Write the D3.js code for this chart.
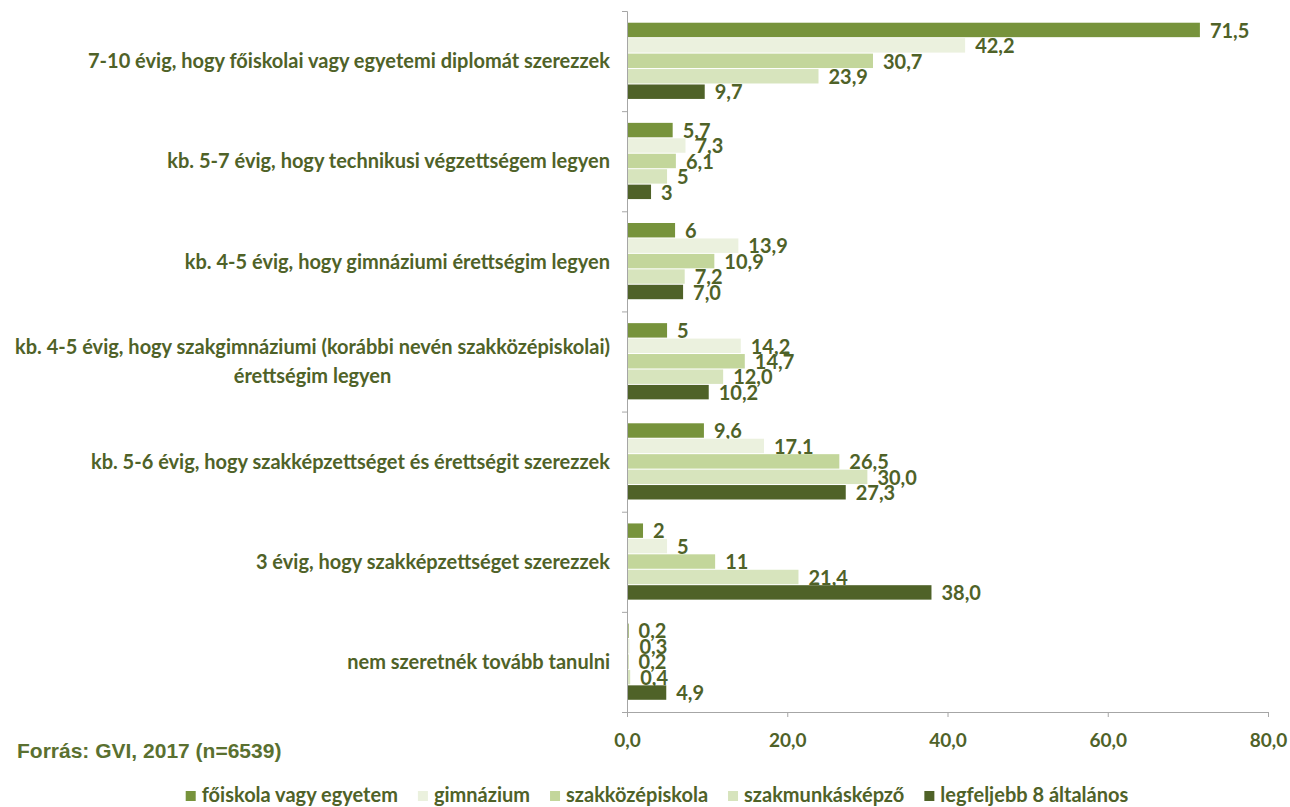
<!DOCTYPE html>
<html>
<head>
<meta charset="utf-8">
<script src="https://cdn.jsdelivr.net/npm/d3@7"></script>
<style>
  body { margin: 0; background: #fff; }
  svg text { font-family: Lato, "Open Sans", sans-serif; font-weight: bold; fill: #4f6228; }
  .axis path, .axis line { stroke: #a6a6a6; }
</style>
</head>
<body>
<svg id="chart" width="1290" height="807"></svg>
<script>
// categories, top to bottom
const categories = [
  ["7-10 évig, hogy főiskolai vagy egyetemi diplomát szerezzek"],
  ["kb. 5-7 évig, hogy technikusi végzettségem legyen"],
  ["kb. 4-5 évig, hogy gimnáziumi érettségim legyen"],
  ["kb. 4-5 évig, hogy szakgimnáziumi (korábbi nevén szakközépiskolai)", "érettségim legyen"],
  ["kb. 5-6 évig, hogy szakképzettséget és érettségit szerezzek"],
  ["3 évig, hogy szakképzettséget szerezzek"],
  ["nem szeretnék tovább tanulni"]
];

const seriesNames = ["főiskola vagy egyetem", "gimnázium", "szakközépiskola", "szakmunkásképző", "legfeljebb 8 általános"];
const seriesColors = ["#77933c", "#ebf1de", "#c3d69b", "#d7e4bd", "#4f6228"];

const foiskola   = [71.5, 5.7, 6.0, 5.0, 9.6, 2.0, 0.2];
const gimnazium  = [42.2, 7.3, 13.9, 14.2, 17.1, 5.0, 0.3];
const szakkozep  = [30.7, 6.1, 10.9, 14.7, 26.5, 11.0, 0.2];
const szakmunkas = [23.9, 5.0, 7.2, 12.0, 30.0, 21.4, 0.4];
const legfeljebb = [9.7, 3.0, 7.0, 10.2, 27.3, 38.0, 4.9];

// value labels as printed on the chart
const foiskolaLabels   = ["71,5", "5,7", "6", "5", "9,6", "2", "0,2"];
const gimnaziumLabels  = ["42,2", "7,3", "13,9", "14,2", "17,1", "5", "0,3"];
const szakkozepLabels  = ["30,7", "6,1", "10,9", "14,7", "26,5", "11", "0,2"];
const szakmunkasLabels = ["23,9", "5", "7,2", "12,0", "30,0", "21,4", "0,4"];
const legfeljebbLabels = ["9,7", "3", "7,0", "10,2", "27,3", "38,0", "4,9"];

const xTicks = [0, 20, 40, 60, 80];
const source = "Forrás: GVI, 2017 (n=6539)";

const seriesValues = [foiskola, gimnazium, szakkozep, szakmunkas, legfeljebb];
const seriesLabels = [foiskolaLabels, gimnaziumLabels, szakkozepLabels, szakmunkasLabels, legfeljebbLabels];

const svg = d3.select("#chart");
const margin = { top: 11, left: 627, right: 22, bottom: 95 };
const width = 1290 - margin.left - margin.right;
const height = 807 - margin.top - margin.bottom;

const g = svg.append("g").attr("transform", `translate(${margin.left}, ${margin.top})`);

const x = d3.scaleLinear().domain([0, 80]).range([0, width]);
const y = d3.scaleBand().domain(d3.range(categories.length)).range([0, height]);
const yEdge = d3.scaleLinear().domain([0, categories.length]).range([0, height]);
const ySub = d3.scaleBand().domain(d3.range(seriesNames.length))
  .range([y.bandwidth() * 0.117, y.bandwidth() * 0.888]);

// bars
const cat = g.selectAll(".cat")
  .data(categories)
  .enter().append("g")
  .attr("class", "cat")
  .attr("transform", (d, i) => `translate(0, ${y(i)})`);

seriesValues.forEach((vals, s) => {
  cat.append("rect")
    .attr("x", 0)
    .attr("y", (d, i) => ySub(s))
    .attr("width", (d, i) => x(vals[i]))
    .attr("height", ySub.bandwidth() - 1)
    .style("fill", seriesColors[s]);

  cat.append("text")
    .attr("x", (d, i) => x(vals[i]) + 10)
    .attr("y", (d, i) => ySub(s) + ySub.bandwidth() / 2)
    .attr("dy", "0.36em")
    .style("font-size", "20px")
    .text((d, i) => seriesLabels[s][i]);
});

// axes
g.append("g")
  .attr("class", "axis axis--y")
  .call(d3.axisLeft(yEdge).tickValues(d3.range(categories.length + 1)).tickSize(5).tickFormat(""));

g.append("g")
  .attr("class", "axis axis--x")
  .attr("transform", `translate(0, ${height})`)
  .call(d3.axisBottom(x).tickValues(xTicks).tickSize(5).tickSizeOuter(0))
  .call(a => a.selectAll("text")
    .text(d => d3.format(".1f")(d).replace(".", ","))
    .attr("y", 22)
    .style("font-size", "19px"));

// category labels
cat.each(function (lines, i) {
  const t = d3.select(this).append("text")
    .attr("text-anchor", "middle")
    .style("font-size", "20px");
  lines.forEach((line, k) => {
    t.append("tspan")
      .attr("x", 0)
      .attr("y", y.bandwidth() / 2 + (k - (lines.length - 1) / 2) * 29)
      .attr("dy", "0.36em")
      .text(line);
  });
  const w = t.node().getBBox().width;
  t.selectAll("tspan").attr("x", -17 - w / 2);
});

// source note
svg.append("text")
  .attr("x", 17)
  .attr("y", 758)
  .style("font-family", "'Liberation Sans', Arial, sans-serif")
  .style("font-size", "21px")
  .style("fill", "#5a7030")
  .text(source);

// legend
const legend = svg.append("g").attr("class", "legend");
let lx = 0;
seriesNames.forEach((name, s) => {
  const item = legend.append("g").attr("transform", `translate(${lx}, 0)`);
  item.append("rect").attr("x", 0).attr("y", -11).attr("width", 10).attr("height", 10).style("fill", seriesColors[s]);
  const t = item.append("text").attr("x", 16).attr("y", 0).style("font-size", "20px").text(name);
  lx += 16 + t.node().getComputedTextLength() + 20;
});
lx -= 20;
legend.attr("transform", `translate(${657 - lx / 2}, 802)`);
</script>
</body>
</html>
